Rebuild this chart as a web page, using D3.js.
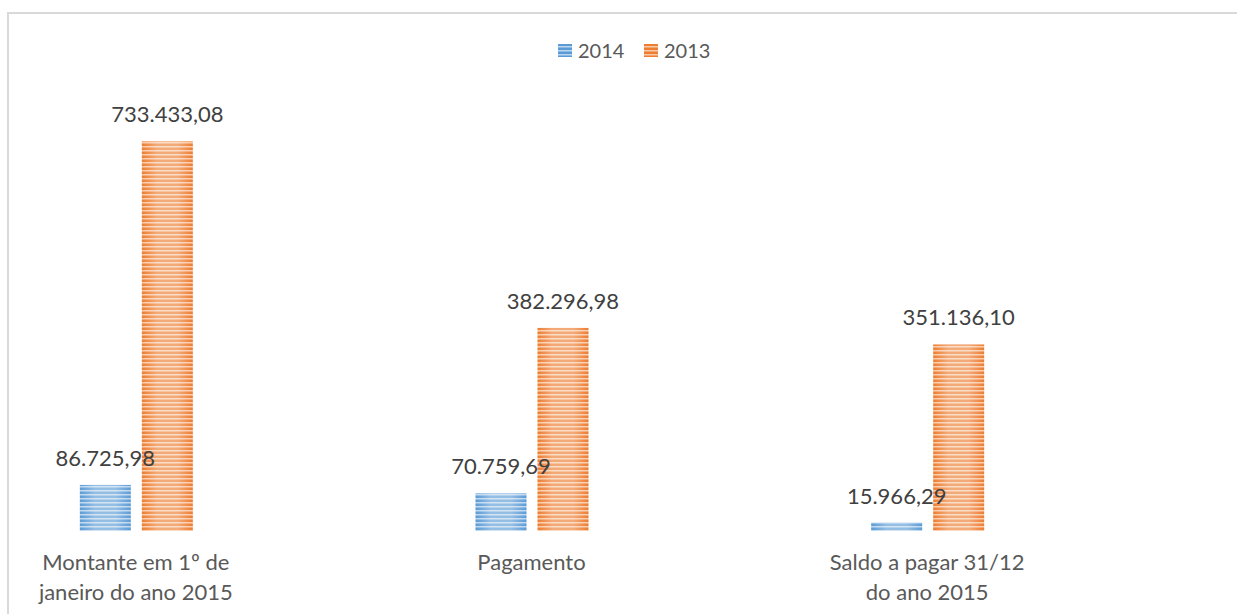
<!DOCTYPE html>
<html>
<head>
<meta charset="utf-8">
<script src="https://cdn.jsdelivr.net/npm/d3@7"></script>
<style>
    body { margin: 0; background: #fff; }
    svg text { font-family: Lato, "Open Sans", sans-serif; fill: #404040; }
</style>
</head>
<body>
<div id="chart"></div>
<script>
// data
var categories = ["Montante em 1º de janeiro do ano 2015", "Pagamento", "Saldo a pagar 31/12 do ano 2015"];
var categoryLines = [["Montante em 1º de", "janeiro do ano 2015"], ["Pagamento"], ["Saldo a pagar 31/12", "do ano 2015"]];
var seriesNames = ["2014", "2013"];
var values2014 = [86725.98, 70759.69, 15966.29];
var values2013 = [733433.08, 382296.98, 351136.10];

var colors = { "2014": "#5b9bd5", "2013": "#ed7d31" };
var light = { "2014": "#bcd6ef", "2013": "#f9caa8" };

var width = 1237, height = 614;

var svg = d3.select("#chart").append("svg")
    .attr("width", width)
    .attr("height", height);

// chart frame (right and bottom edge fall outside the picture)
svg.append("rect")
    .attr("x", 8).attr("y", 13)
    .attr("width", 1260).attr("height", 640)
    .attr("fill", "#fff")
    .attr("stroke", "#d9d9d9")
    .attr("stroke-width", 2);

var defs = svg.append("defs");

// striped fill with a soft white glow across each bar
seriesNames.forEach(function (s) {
    var p = defs.append("pattern")
        .attr("id", "stripe" + s)
        .attr("patternUnits", "userSpaceOnUse")
        .attr("width", 8).attr("height", 4);
    p.append("rect").attr("width", 8).attr("height", 4).attr("fill", light[s]);
    p.append("rect").attr("y", 0).attr("width", 8).attr("height", 2).attr("fill", colors[s]);
    p.append("rect").attr("y", 3).attr("width", 8).attr("height", 1).attr("fill", colors[s]).attr("opacity", 0.5);
});

var glow = defs.append("linearGradient")
    .attr("id", "glow")
    .attr("x1", "0%").attr("x2", "100%").attr("y1", "0%").attr("y2", "0%");
glow.append("stop").attr("offset", "0%").attr("stop-color", "#fff").attr("stop-opacity", 0);
glow.append("stop").attr("offset", "30%").attr("stop-color", "#fff").attr("stop-opacity", 0.35);
glow.append("stop").attr("offset", "70%").attr("stop-color", "#fff").attr("stop-opacity", 0.35);
glow.append("stop").attr("offset", "100%").attr("stop-color", "#fff").attr("stop-opacity", 0);

// scales
var baseY = 531;
var x0 = d3.scaleBand().domain(categories).range([-62, 1125]);
var x1 = d3.scaleBand().domain(seriesNames)
    .range([x0.bandwidth() / 2 - 56, x0.bandwidth() / 2 + 57])
    .paddingInner(0.1774);
var y = d3.scaleLinear().domain([0, 800000]).range([baseY, 106]);

var pt = d3.formatLocale({ decimal: ",", thousands: ".", grouping: [3], currency: ["", ""] });
var fmt = pt.format(",.2f");

var rows = categories.map(function (c, i) {
    return { cat: c, lines: categoryLines[i], vals: [
        { s: "2014", v: values2014[i] },
        { s: "2013", v: values2013[i] }
    ] };
});

var groups = svg.selectAll("g.cat")
    .data(rows)
    .enter().append("g")
    .attr("class", "cat")
    .attr("transform", function (d) { return "translate(" + x0(d.cat) + ",0)"; });

var bars = groups.selectAll("g.bar")
    .data(function (d) { return d.vals; })
    .enter().append("g")
    .attr("class", "bar");

bars.append("rect")
    .attr("x", function (d) { return x1(d.s); })
    .attr("y", function (d) { return y(d.v); })
    .attr("width", x1.bandwidth())
    .attr("height", function (d) { return baseY - y(d.v); })
    .attr("fill", function (d) { return "url(#stripe" + d.s + ")"; });

bars.append("rect")
    .attr("x", function (d) { return x1(d.s); })
    .attr("y", function (d) { return y(d.v); })
    .attr("width", x1.bandwidth())
    .attr("height", function (d) { return baseY - y(d.v); })
    .attr("fill", "url(#glow)");

// value labels go on top of every bar
var labelLayer = svg.selectAll("g.labels")
    .data(rows)
    .enter().append("g")
    .attr("class", "labels")
    .attr("transform", function (d) { return "translate(" + x0(d.cat) + ",0)"; });

labelLayer.selectAll("text")
    .data(function (d) { return d.vals; })
    .enter().append("text")
    .attr("x", function (d) { return x1(d.s) + x1.bandwidth() / 2; })
    .attr("y", function (d) { return y(d.v) - 19; })
    .attr("text-anchor", "middle")
    .style("font-size", "22px")
    .text(function (d) { return fmt(d.v); });

// category labels
groups.append("text")
    .attr("text-anchor", "middle")
    .style("font-size", "22px")
    .style("fill", "#595959")
    .selectAll("tspan")
    .data(function (d) { return d.lines; })
    .enter().append("tspan")
    .attr("x", x0.bandwidth() / 2)
    .attr("y", function (d, i) { return 570 + i * 30; })
    .text(function (d) { return d; });

// legend
var legend = svg.append("g").attr("transform", "translate(558,44)");
var item = legend.selectAll("g")
    .data(seriesNames)
    .enter().append("g")
    .attr("transform", function (d, i) { return "translate(" + (i * 86) + ",0)"; });
item.append("rect")
    .attr("width", 14).attr("height", 13)
    .attr("fill", function (d) { return "url(#stripe" + d + ")"; });
item.append("text")
    .attr("x", 20).attr("y", 14)
    .style("font-size", "20px")
    .style("fill", "#595959")
    .text(function (d) { return d; });
</script>
</body>
</html>
